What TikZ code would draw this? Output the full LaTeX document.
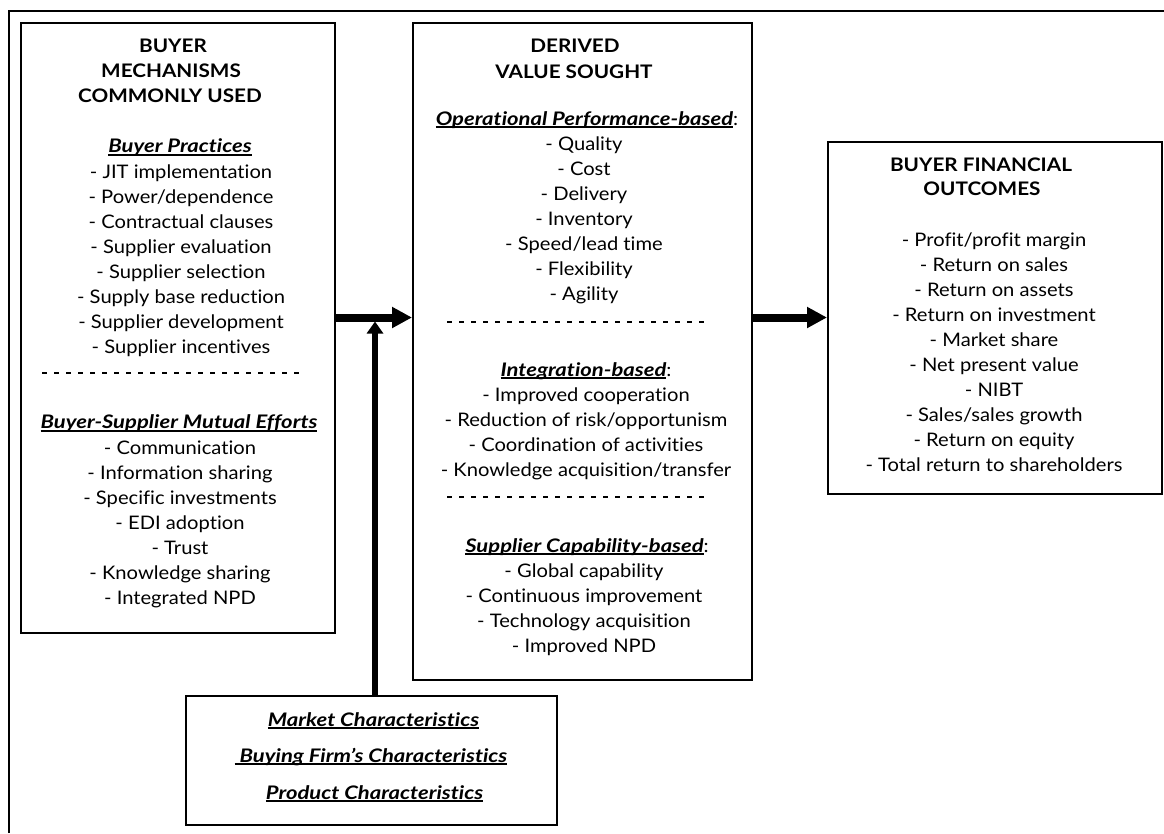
\documentclass[tikz,border=0pt]{standalone}
\usepackage{fontspec}
\setmainfont{Lato}[
  Ligatures=NoCommon,
  FakeStretch=1.08,
  BoldFeatures={FakeStretch=1.11},
  BoldItalicFeatures={FakeStretch=1.18}]
\usetikzlibrary{arrows.meta,fit,calc}

% bold italic underlined heading
\newcommand\uln[1]{\setbox0\hbox{#1}\rlap{\rule[-2.2pt]{\wd0}{1.1pt}}\box0}
\newcommand\hd[1]{\uln{\bfseries\itshape #1}}

\begin{document}
\begin{tikzpicture}[x=0.75pt,y=-0.75pt,
  box/.style={draw, line width=1.5pt, inner sep=0pt},
  item/.style={anchor=base, inner sep=0pt, font=\fontsize{14}{16}\selectfont},
  head/.style={item, font=\fontsize{14}{16}\selectfont\bfseries},
  sep/.style={line width=1.5pt, dash pattern=on 3.75pt off 5.25pt},
  bigarrow/.style={line width=6pt, -{Triangle[length=15pt,width=15pt]}},
  uparrow/.style={line width=5pt, -{Triangle[length=9pt,width=12pt]}},
]
\useasboundingbox (0,0) rectangle (1164,833);

% open frame: top and left edges only
\draw[line width=1.4pt] (9,833) -- (9,11) -- (1164,11);

% boxes
\node[box, fit={(21,23) (335,633)}] (mech) {};
\node[box, fit={(413,23) (752,680)}] (value) {};
\node[box, fit={(828,142) (1162,494)}] (fin) {};
\node[box, fit={(186,696) (557,825)}] (ctx) {};

% ---------- buyer mechanisms ----------
\node[head] (m1) at (173,52.7) {BUYER};
\node[head] (m2) at (171,77.7) {MECHANISMS};
\node[head] (m3) at (170,102.7) {COMMONLY USED};
\node[item] (bph) at (180,152.7) {\hd{Buyer Practices}};
\foreach \t [count=\i] in {JIT implementation, Power/dependence, Contractual clauses,
    Supplier evaluation, Supplier selection, Supply base reduction,
    Supplier development, Supplier incentives}
  \node[item] (bp\i) at (181,{178.3+25*(\i-1)}) {- \t};
\draw[sep] (42,373) -- (304,373);
\node[item] (meh) at (179,428.7) {\hd{Buyer-Supplier Mutual Efforts}};
\foreach \t [count=\i] in {Communication, Information sharing, Specific investments,
    EDI adoption, Trust, Knowledge sharing, Integrated NPD}
  \node[item] (me\i) at (180,{454.3+25*(\i-1)}) {- \t};

% ---------- derived value ----------
\node[head] (v1) at (575,52.7) {DERIVED};
\node[head] (v2) at (574,78) {VALUE SOUGHT};
\node[item] (oph) at (587,125) {\hd{Operational Performance-based}:};
\foreach \t [count=\i] in {Quality, Cost, Delivery, Inventory, Speed/lead time,
    Flexibility, Agility}
  \node[item] (op\i) at (584,{150+25*(\i-1)}) {- \t};
\draw[sep] (447,322) -- (708,322);
\node[item] (inh) at (586,376) {\hd{Integration-based}:};
\foreach \t [count=\i] in {Improved cooperation, Reduction of risk/opportunism,
    Coordination of activities, Knowledge acquisition/transfer}
  \node[item] (in\i) at (586,{401.7+25*(\i-1)}) {- \t};
\draw[sep] (447,497.3) -- (708,497.3);
\node[item] (sch) at (587,552) {\hd{Supplier Capability-based}:};
\foreach \t [count=\i] in {Global capability, Continuous improvement,
    Technology acquisition, Improved NPD}
  \node[item] (sc\i) at (584,{577.5+25*(\i-1)}) {- \t};

% ---------- financial outcomes ----------
\node[head] (f1) at (981,171.5) {BUYER FINANCIAL};
\node[head] (f2) at (982,195.5) {OUTCOMES};
\foreach \t [count=\i] in {Profit/profit margin, Return on sales, Return on assets,
    Return on investment, Market share, Net present value, NIBT,
    Sales/sales growth, Return on equity, Total return to shareholders}
  \node[item] (fo\i) at (994,{246+25*(\i-1)}) {- \t};

% ---------- context factors ----------
\node[item] (c1) at (373.5,726) {\hd{Market Characteristics}};
\node[item] (c2) at (371,762) {\hd{~Buying Firm's Characteristics}};
\node[item] (c3) at (374.5,799) {\hd{Product Characteristics}};

% ---------- connectors ----------
\coordinate (flow) at (0,317.5);
\coordinate (join) at (375,321.5);
\draw[bigarrow] (mech.east |- flow) -- (value.west |- flow);
\draw[bigarrow] (value.east |- flow) -- (fin.west |- flow);
\draw[uparrow] (join |- ctx.north) -- (join);
\end{tikzpicture}
\end{document}
